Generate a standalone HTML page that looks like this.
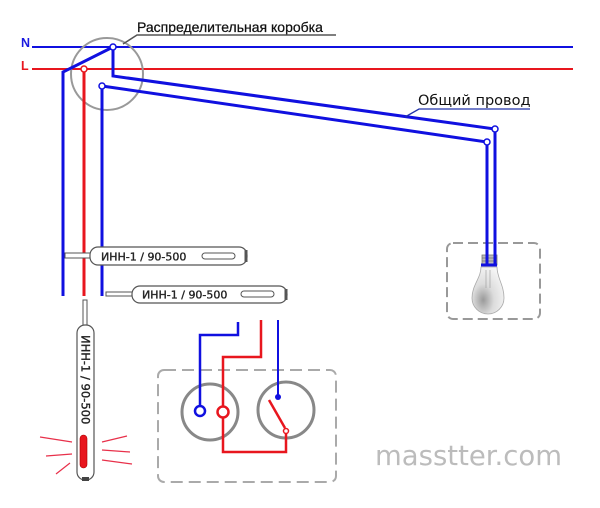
<!DOCTYPE html>
<html><head><meta charset="utf-8"><style>
html,body{margin:0;padding:0;background:#fff;}
svg{display:block;}
</style></head><body>
<svg width="600" height="508" viewBox="0 0 600 508" xmlns="http://www.w3.org/2000/svg">
<defs>
<radialGradient id="bulb" cx="0.35" cy="0.7" r="0.75">
<stop offset="0" stop-color="#9a9a9a"/>
<stop offset="0.45" stop-color="#dcdcdc"/>
<stop offset="1" stop-color="#f6f6f6"/>
</radialGradient>
</defs>
<rect width="600" height="508" fill="#fff"/>

<!-- N / L labels -->
<text x="21" y="47" font-family="Liberation Sans, sans-serif" font-weight="bold" font-size="12.5" fill="#1a1ae0">N</text>
<text x="21" y="70" font-family="Liberation Sans, sans-serif" font-weight="bold" font-size="12.5" fill="#e8161e">L</text>

<!-- mains lines -->
<line x1="32" y1="47" x2="573" y2="47" stroke="#1010e0" stroke-width="2"/>
<line x1="32" y1="69" x2="573" y2="69" stroke="#e8161e" stroke-width="2"/>

<!-- junction box circle -->
<circle cx="107" cy="74" r="36" fill="none" stroke="#999" stroke-width="2"/>

<!-- label junction box -->
<text x="137" y="32" font-family="Liberation Sans, sans-serif" font-size="14" fill="#111" stroke="#111" stroke-width="0.25">Распределительная коробка</text>
<polyline points="123,44 137,35 336,35" fill="none" stroke="#555" stroke-width="1.5"/>

<!-- blue wires from N node -->
<polyline points="63,296 63,72 113,47" fill="none" stroke="#1010e0" stroke-width="3"/>
<polyline points="113,47 113,76 495,129 495,264" fill="none" stroke="#1010e0" stroke-width="3"/>
<polyline points="102,296 102,86 487,142 487,264" fill="none" stroke="#1010e0" stroke-width="3"/>
<!-- red wire -->
<line x1="84" y1="69" x2="84" y2="296" stroke="#e8161e" stroke-width="3"/>

<!-- nodes -->
<circle cx="113" cy="47" r="3" fill="#fff" stroke="#1010e0" stroke-width="1.5"/>
<circle cx="84" cy="69" r="3" fill="#fff" stroke="#e8161e" stroke-width="1.5"/>
<circle cx="102" cy="86" r="3" fill="#fff" stroke="#1010e0" stroke-width="1.5"/>
<circle cx="495" cy="129" r="3" fill="#fff" stroke="#1010e0" stroke-width="1.5"/>
<circle cx="487" cy="142" r="3" fill="#fff" stroke="#1010e0" stroke-width="1.5"/>

<!-- Общий провод -->
<text x="418" y="105" font-family="DejaVu Sans, sans-serif" font-size="14.5" fill="#111">Общий провод</text>
<polyline points="405,117 419,109 530,109" fill="none" stroke="#2233aa" stroke-width="1.3"/>

<!-- horizontal indicator 1 -->
<rect x="65" y="253" width="26" height="5" fill="#fff" stroke="#555" stroke-width="1"/>
<rect x="90" y="247" width="157" height="18" rx="8" ry="8" fill="#fff" stroke="#555" stroke-width="1.2"/>
<rect x="244.5" y="250" width="3" height="12" fill="#555"/>
<text x="101" y="260.5" font-family="DejaVu Sans, sans-serif" font-size="11" fill="#222" stroke="#222" stroke-width="0.35">ИНН-1 / 90-500</text>
<rect x="202" y="253" width="33" height="6" rx="3" ry="3" fill="#fff" stroke="#555" stroke-width="1"/>

<!-- horizontal indicator 2 -->
<rect x="106" y="292" width="27" height="4" fill="#fff" stroke="#555" stroke-width="1"/>
<rect x="132" y="286" width="155" height="17" rx="8" ry="8" fill="#fff" stroke="#555" stroke-width="1.2"/>
<rect x="284.5" y="289" width="3" height="11" fill="#555"/>
<text x="142" y="298.5" font-family="DejaVu Sans, sans-serif" font-size="11" fill="#222" stroke="#222" stroke-width="0.35">ИНН-1 / 90-500</text>
<rect x="241" y="291" width="33" height="6" rx="3" ry="3" fill="#fff" stroke="#555" stroke-width="1"/>

<!-- vertical indicator -->
<rect x="83" y="300" width="4" height="26" fill="#fff" stroke="#555" stroke-width="1"/>
<rect x="77" y="325" width="17" height="155" rx="8" ry="8" fill="#fff" stroke="#555" stroke-width="1.2"/>
<rect x="82" y="477" width="7" height="4" fill="#444"/>
<text transform="translate(81.5,335) rotate(90)" font-family="DejaVu Sans, sans-serif" font-size="11.5" fill="#222" stroke="#222" stroke-width="0.35">ИНН-1 / 90-500</text>
<rect x="80" y="435" width="7" height="33" rx="3.5" ry="3.5" fill="#e8161e" stroke="#a00" stroke-width="0.6"/>
<!-- rays -->
<g stroke="#e8304a" stroke-width="1.2">
<line x1="40" y1="437" x2="72" y2="442"/>
<line x1="46" y1="456" x2="72" y2="454"/>
<line x1="56" y1="474" x2="70" y2="463"/>
<line x1="102" y1="442" x2="127" y2="436"/>
<line x1="102" y1="450" x2="130" y2="452"/>
<line x1="102" y1="460" x2="132" y2="464"/>
</g>

<!-- switch/socket box -->
<rect x="158" y="370" width="178" height="112" rx="6" ry="6" fill="none" stroke="#aaa" stroke-width="2" stroke-dasharray="12 6"/>
<circle cx="210" cy="412" r="28" fill="none" stroke="#888" stroke-width="3"/>
<circle cx="286" cy="410" r="28" fill="none" stroke="#888" stroke-width="3"/>

<!-- wires to socket / switch -->
<polyline points="238,322 238,335 200,335 200,406" fill="none" stroke="#1010e0" stroke-width="2.5"/>
<circle cx="200" cy="411" r="5" fill="#fff" stroke="#1010e0" stroke-width="2.5"/>
<polyline points="261,320 261,357 223,357 223,406" fill="none" stroke="#e8161e" stroke-width="2.5"/>
<circle cx="223" cy="412" r="5.5" fill="#fff" stroke="#e8161e" stroke-width="2.5"/>
<polyline points="223,418 223,452 286,452 286,434" fill="none" stroke="#e8161e" stroke-width="2.5"/>
<line x1="285" y1="428" x2="269" y2="400" stroke="#e8161e" stroke-width="2.5"/>
<circle cx="286" cy="431" r="2.5" fill="#fff" stroke="#e8161e" stroke-width="1.5"/>
<line x1="278" y1="320" x2="278" y2="397" stroke="#1010e0" stroke-width="2"/>
<circle cx="278" cy="397" r="3" fill="#1010e0"/>

<!-- lamp box -->
<rect x="447" y="243" width="93" height="76" rx="6" ry="6" fill="none" stroke="#999" stroke-width="2" stroke-dasharray="10 5"/>
<!-- bulb -->
<path d="M481,267 C481,278 472,285 472,298 A16,16 0 0 0 504,298 C504,285 497,278 497,267 Z" fill="url(#bulb)" stroke="#aaa" stroke-width="0.8"/>
<path d="M486,270 L486,288 M490,270 L490,288" stroke="#999" stroke-width="0.6"/>
<rect x="482" y="255" width="15" height="10" fill="#bbb" stroke="#777" stroke-width="0.8"/>
<line x1="482" y1="258" x2="497" y2="258" stroke="#777" stroke-width="0.8"/>
<line x1="482" y1="261" x2="497" y2="261" stroke="#777" stroke-width="0.8"/>
<line x1="487" y1="240" x2="487" y2="264" stroke="#1010e0" stroke-width="3"/>
<line x1="495" y1="240" x2="495" y2="264" stroke="#1010e0" stroke-width="3"/>
<line x1="481" y1="265" x2="497" y2="265" stroke="#1010e0" stroke-width="3"/>

<!-- watermark -->
<text x="375" y="465" font-family="DejaVu Sans, sans-serif" font-size="27.5" fill="#bcbcbc">masstter.com</text>
</svg>
</body></html>
